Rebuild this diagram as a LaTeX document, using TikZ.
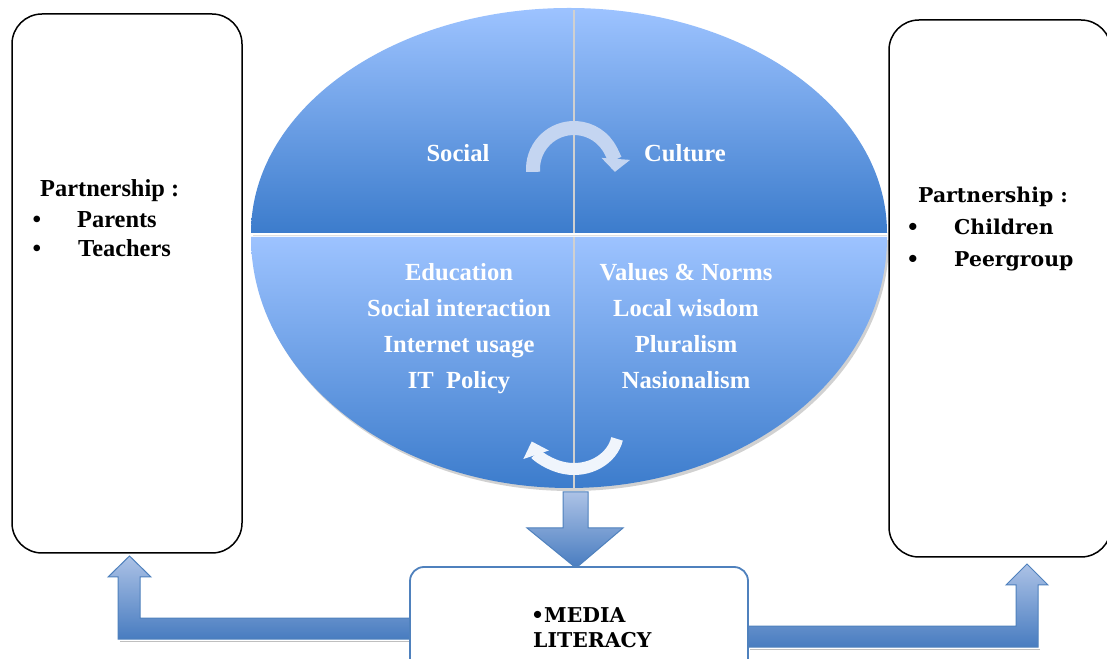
\documentclass[tikz,border=0pt]{standalone}
\usepackage{fontspec}
\setmainfont{Liberation Serif}
\newfontfamily\dvs{DejaVu Serif}
\usetikzlibrary{arrows.meta}
\definecolor{ellTop}{RGB}{157,195,255}
\definecolor{ellBot}{RGB}{60,124,204}
\definecolor{arTop}{RGB}{172,194,230}
\definecolor{arBot}{RGB}{72,124,192}
\definecolor{arEdge}{RGB}{79,129,189}
\definecolor{arcTop}{RGB}{196,213,241}
\definecolor{arcBot}{RGB}{240,245,252}
\definecolor{divider}{RGB}{208,208,208}
\tikzset{
  half/.style={top color=ellTop, bottom color=ellBot, draw=none},
  wt/.style={text=white, font=\fontsize{24.6}{28}\selectfont\bfseries, anchor=base, inner sep=0pt},
  ltxt/.style={font=\fontsize{24.4}{28}\selectfont\bfseries, anchor=base west, inner sep=0pt},
  rtxt/.style={font=\dvs\fontsize{20.4}{24}\selectfont\bfseries, anchor=base west, inner sep=0pt},
  sidebox/.style={draw=black, line width=1.5pt, rounded corners=30pt, fill=white},
  blockarrow/.style={draw=arEdge, line width=1pt, top color=arTop, bottom color=arBot},
}
\begin{document}
\begin{tikzpicture}[x=1pt,y=1pt]
\useasboundingbox (0,0) rectangle (1107,658);
\fill[white] (0,0) rectangle (1107,658);

% ellipse shadows
\fill[black!18] (253,418) arc[start angle=180, end angle=360, x radius=318, y radius=251] -- cycle;
\fill[black!12] (253,423) rectangle (887,421.5);
% upper half
\path[half] (251,425) arc[start angle=180, end angle=0, x radius=318, y radius=225] -- cycle;
% lower half
\path[half] (251,421) arc[start angle=180, end angle=360, x radius=318, y radius=251] -- cycle;
% divider
\draw[divider, line width=1.5pt] (574,648) -- (574,425);
\draw[divider, line width=1.5pt] (574,421) -- (574,170);

% curved arrows
\draw[arcTop, line width=14pt, -{Triangle[width=28pt,length=13pt]}]
  (574,489) ++(184:41) arc[start angle=184, end angle=-4, radius=41];
\draw[arcBot, line width=12pt, -{Triangle[width=26pt,length=14pt]}]
  (574,227) ++(-12:44 and 38) arc[start angle=-12, end angle=-164, x radius=44, y radius=38];

% texts in ellipse
\node[wt] (social) at (458,496) {Social};
\node[wt] (culture) at (685,496) {Culture};
\node[wt] (edu) at (459,377) {Education};
\node[wt] (soc) at (459,341) {Social interaction};
\node[wt] (inet) at (459,305) {Internet usage};
\node[wt] (itp) at (459,269) {IT\ \ Policy};
\node[wt] (val) at (686,377) {Values \& Norms};
\node[wt] (loc) at (686,341) {Local wisdom};
\node[wt] (plu) at (686,305) {Pluralism};
\node[wt] (nas) at (686,269) {Nasionalism};

% side boxes
\node[sidebox, minimum width=230pt, minimum height=539pt, inner sep=0pt] (leftbox) at (127,374.5) {};
\node[sidebox, minimum width=222pt, minimum height=537pt, inner sep=0pt] (rightbox) at (1000,369.5) {};

\node[ltxt] (lp) at (40,461) {Partnership :};
\node[ltxt, anchor=base] (lb1) at (37,430) {\textbullet};
\node[ltxt] (lpar) at (77,430) {Parents};
\node[ltxt, anchor=base] (lb2) at (37,401) {\textbullet};
\node[ltxt] (ltea) at (78,401) {Teachers};

\node[rtxt] (rp) at (918,455) {Partnership :};
\node[rtxt, anchor=base] (rb1) at (913,423) {\textbullet};
\node[rtxt] (rchi) at (954,423) {Children};
\node[rtxt, anchor=base] (rb2) at (913,391) {\textbullet};
\node[rtxt] (rpee) at (954,391) {Peergroup};

% block arrow shadows
\fill[black!25] (412,17) rectangle (120,16);
\fill[black!25] (750,9) rectangle (1040,8);

% down arrow
\draw[blockarrow] (563,166) -- (588,166) -- (588,130) -- (623,130) -- (576,90) -- (527,130) -- (563,130) -- cycle;
% left L arrow
\draw[blockarrow] (412,40) -- (140,40) -- (140,81) -- (151,81) -- (129.5,102) -- (108,81) -- (118,81) -- (118,19) -- (412,19) -- cycle;
% right L arrow
\draw[blockarrow] (746,32) -- (1016,32) -- (1016,73) -- (1006,73) -- (1027,94) -- (1048,73) -- (1038,73) -- (1038,11) -- (746,11) -- cycle;

% media box
\node[draw=arEdge, line width=1.8pt, fill=white, rounded corners=14pt, minimum width=338pt, minimum height=108pt, inner sep=0pt] (media) at (579,37) {};
\node[rtxt] (m1) at (531,36) {\textbullet MEDIA};
\node[rtxt] (m2) at (533,11) {LITERACY};
\end{tikzpicture}
\end{document}
